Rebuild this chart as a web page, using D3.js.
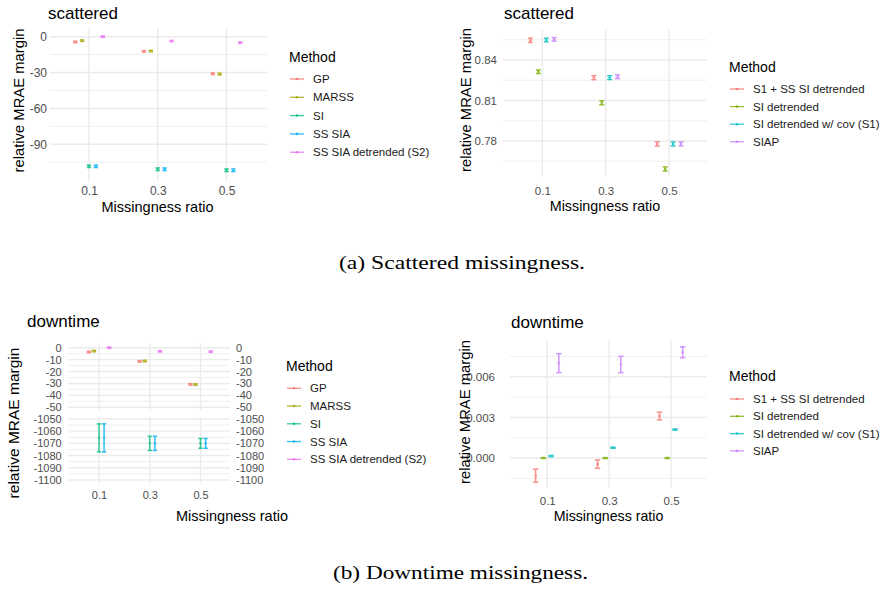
<!DOCTYPE html>
<html>
<head>
<meta charset="utf-8">
<script src="https://cdn.jsdelivr.net/npm/d3@7"></script>
<style>
body { margin: 0; background: #fff; }
text { font-family: "Liberation Sans", Arial, sans-serif; }
</style>
</head>
<body>
<svg width="885" height="591"></svg>
<script>
const ratios = [0.1, 0.3, 0.5];

const methods5 = ["GP", "MARSS", "SI", "SS SIA", "SS SIA detrended (S2)"];
const methods4 = ["S1 + SS SI detrended", "SI detrended", "SI detrended w/ cov (S1)", "SIAP"];
const palette5 = ["#F8766D", "#A3A500", "#00BF7D", "#00B0F6", "#E76BF3"];
const palette4 = ["#F8766D", "#7CAE00", "#00BFC4", "#C77CFF"];

// scattered missingness, 5 methods (rows) x ratios (cols)
const scat5Mean = [
  [-4.4, -12.2, -31.0],
  [-3.3, -12.0, -31.3],
  [-108.4, -110.9, -111.7],
  [-108.4, -110.9, -111.7],
  [0.0, -3.6, -5.0]
];
const scat5Err = [
  [0.6, 0.6, 0.7],
  [0.6, 0.6, 0.7],
  [1.0, 1.1, 1.1],
  [1.0, 1.1, 1.1],
  [0.5, 0.5, 0.5]
];

// scattered missingness, 4 methods
const scat4Mean = [
  [0.8546, 0.8269, 0.7778],
  [0.8313, 0.8083, 0.7593],
  [0.8548, 0.8269, 0.7778],
  [0.8553, 0.8276, 0.7778]
];
const scat4Err = [
  [0.0016, 0.0015, 0.0016],
  [0.0013, 0.0015, 0.0015],
  [0.0013, 0.0014, 0.0015],
  [0.0013, 0.0014, 0.0015]
];

// downtime missingness, 5 methods
const down5Mean = [
  [-3.6, -11.5, -30.8],
  [-2.8, -11.2, -31.0],
  [-1065.5, -1070.0, -1070.0],
  [-1065.5, -1070.0, -1070.0],
  [0.0, -3.0, -3.4]
];
const down5Err = [
  [0.6, 0.6, 0.6],
  [0.6, 0.6, 0.6],
  [11.5, 5.8, 4.0],
  [11.5, 5.8, 4.0],
  [0.5, 0.5, 0.5]
];

// downtime missingness, 4 methods
const down4Mean = [
  [-0.0013, -0.00045, 0.0031],
  [0.0, 0.0, 0.0],
  [0.00015, 0.00076, 0.0021],
  [0.0070, 0.0069, 0.0078]
];
const down4Err = [
  [0.00048, 0.00031, 0.00028],
  [0.00003, 0.00003, 0.00003],
  [0.00004, 0.00004, 0.00004],
  [0.0007, 0.0006, 0.0004]
];

const svg = d3.select("svg");
const gridCol = "#ebebeb";
const tickCol = "#4d4d4d";

function drawPanel(o) {
  const g = svg.append("g");
  const x = d3.scaleLinear().domain(o.xDomain).range([o.left, o.right]);
  const n = o.methods.length;
  const step = 0.1 / n;

  o.bands.forEach(b => {
    const y = d3.scaleLinear().domain(b.domain).range([b.bottom, b.top]);

    g.selectAll(null).data(b.minor).enter().append("line")
      .attr("x1", o.left).attr("x2", o.right)
      .attr("y1", d => y(d)).attr("y2", d => y(d))
      .attr("stroke", gridCol).attr("stroke-width", 0.8);
    g.selectAll(null).data(b.ticks).enter().append("line")
      .attr("x1", o.left).attr("x2", o.right)
      .attr("y1", d => y(d)).attr("y2", d => y(d))
      .attr("stroke", gridCol).attr("stroke-width", 1.4);
    g.selectAll(null).data(ratios).enter().append("line")
      .attr("x1", d => x(d)).attr("x2", d => x(d))
      .attr("y1", b.top).attr("y2", b.bottom)
      .attr("stroke", gridCol).attr("stroke-width", 1.4);

    const ax = g.append("g")
      .attr("transform", `translate(${o.labelRight},0)`)
      .call(d3.axisLeft(y).tickValues(b.ticks).tickSize(0).tickPadding(0).tickFormat(o.fmt));
    ax.select(".domain").remove();
    ax.selectAll("text").attr("fill", tickCol).style("font-size", o.tickFs + "px")
      .style("font-family", '"Liberation Sans", Arial, sans-serif');

    if (o.labelLeft2 != null) {
      const ax2 = g.append("g")
        .attr("transform", `translate(${o.labelLeft2},0)`)
        .call(d3.axisRight(y).tickValues(b.ticks).tickSize(0).tickPadding(0).tickFormat(o.fmt));
      ax2.select(".domain").remove();
      ax2.selectAll("text").attr("fill", tickCol).style("font-size", o.tickFs + "px")
        .style("font-family", '"Liberation Sans", Arial, sans-serif');
    }

    const pts = [];
    o.mean.forEach((row, i) => row.forEach((m, j) => {
      if (m >= b.domain[0] && m <= b.domain[1]) {
        pts.push({ xv: ratios[j] + (i - (n - 1) / 2) * step, m, e: o.err[i][j], c: o.colors[i] });
      }
    }));
    const eb = g.selectAll(null).data(pts).enter().append("g")
      .attr("stroke", d => d.c).attr("fill", d => d.c).attr("opacity", 0.8);
    eb.append("line")
      .attr("x1", d => x(d.xv)).attr("x2", d => x(d.xv))
      .attr("y1", d => y(d.m - d.e)).attr("y2", d => y(d.m + d.e))
      .attr("stroke-width", 1.5);
    eb.append("line")
      .attr("x1", d => x(d.xv) - o.cap).attr("x2", d => x(d.xv) + o.cap)
      .attr("y1", d => y(d.m - d.e)).attr("y2", d => y(d.m - d.e))
      .attr("stroke-width", 1.5);
    eb.append("line")
      .attr("x1", d => x(d.xv) - o.cap).attr("x2", d => x(d.xv) + o.cap)
      .attr("y1", d => y(d.m + d.e)).attr("y2", d => y(d.m + d.e))
      .attr("stroke-width", 1.5);
    eb.append("circle")
      .attr("cx", d => x(d.xv)).attr("cy", d => y(d.m))
      .attr("r", 1.3).attr("stroke", "none");
  });

  const xa = g.append("g")
    .attr("transform", `translate(0,${o.xLabelY})`)
    .call(d3.axisBottom(x).tickValues(ratios).tickSize(0).tickFormat(d => d.toFixed(1)));
  xa.select(".domain").remove();
  xa.selectAll("text").attr("y", 0).attr("dy", 0).attr("fill", tickCol)
    .style("font-size", o.tickFs + "px")
    .style("font-family", '"Liberation Sans", Arial, sans-serif');

  g.append("text").attr("x", o.xTitle[0]).attr("y", o.xTitle[1])
    .attr("text-anchor", "middle").style("font-size", o.axisFs + "px")
    .text("Missingness ratio");
  g.append("text")
    .attr("transform", `translate(${o.yTitle[0]},${o.yTitle[1]}) rotate(-90)`)
    .attr("text-anchor", "middle").style("font-size", o.yFs + "px")
    .text("relative MRAE margin");
  g.append("text").attr("x", o.title[0]).attr("y", o.title[1])
    .style("font-size", "17px").text(o.name);

  // legend
  const lg = g.append("g");
  lg.append("text").attr("x", o.legend.x).attr("y", o.legend.titleY)
    .style("font-size", "14px").text("Method");
  const item = lg.selectAll(null).data(o.methods).enter().append("g")
    .attr("transform", (d, i) => `translate(${o.legend.x},${o.legend.y0 + i * o.legend.step})`);
  item.append("line").attr("x1", 1).attr("x2", 15).attr("y1", 0).attr("y2", 0)
    .attr("stroke", (d, i) => o.colors[i]).attr("stroke-width", 1.3).attr("opacity", 0.8);
  item.append("circle").attr("cx", 8).attr("cy", 0).attr("r", 1.3)
    .attr("fill", (d, i) => o.colors[i]).attr("opacity", 0.8);
  item.append("text").attr("x", 24).attr("y", 4)
    .style("font-size", "11.5px").attr("fill", "#1a1a1a").text(d => d);
}

drawPanel({
  name: "scattered", methods: methods5, colors: palette5, mean: scat5Mean, err: scat5Err,
  left: 50, right: 267, xDomain: [-0.0134, 0.6178], cap: 2.2,
  bands: [{ top: 28, bottom: 181, domain: [-120.7, 7.28], ticks: [0, -30, -60, -90], minor: [-15, -45, -75, -105] }],
  fmt: d => String(d), labelRight: 47, tickFs: 12, xLabelY: 194.5,
  xTitle: [157.5, 211.5], yTitle: [24, 100.5], axisFs: 14.5, yFs: 14.8, title: [48, 19],
  legend: { x: 289, titleY: 62, y0: 79, step: 18.3 }
});

drawPanel({
  name: "scattered", methods: methods4, colors: palette4, mean: scat4Mean, err: scat4Err,
  left: 503.3, right: 706.7, xDomain: [-0.023, 0.6186], cap: 2.5,
  bands: [{ top: 30, bottom: 177, domain: [0.7533, 0.8622], ticks: [0.78, 0.81, 0.84], minor: [0.765, 0.795, 0.825, 0.855] }],
  fmt: d => d.toFixed(2), labelRight: 497, tickFs: 11.5, xLabelY: 194.5,
  xTitle: [605, 210.5], yTitle: [471, 100], axisFs: 14.3, yFs: 14.8, title: [504, 19],
  legend: { x: 729, titleY: 72, y0: 89, step: 17.6 }
});

drawPanel({
  name: "downtime", methods: methods5, colors: palette5, mean: down5Mean, err: down5Err,
  left: 68.3, right: 230, xDomain: [-0.021, 0.616], cap: 2.2,
  bands: [
    { top: 343, bottom: 410, domain: [-52.3, 3.94], ticks: [0, -10, -20, -30, -40, -50], minor: [-5, -15, -25, -35, -45] },
    { top: 417, bottom: 483, domain: [-1102.5, -1048.4], ticks: [-1050, -1060, -1070, -1080, -1090, -1100], minor: [-1055, -1065, -1075, -1085, -1095] }
  ],
  fmt: d => String(d), labelRight: 61.7, labelLeft2: 236, tickFs: 11, xLabelY: 498.5,
  xTitle: [232, 521], yTitle: [19, 423], axisFs: 14.5, yFs: 15.5, title: [27, 327],
  legend: { x: 286, titleY: 370.5, y0: 388.3, step: 17.75 }
});

drawPanel({
  name: "downtime", methods: methods4, colors: palette4, mean: down4Mean, err: down4Err,
  left: 510, right: 706.7, xDomain: [-0.0203, 0.615], cap: 2.7,
  bands: [{ top: 340, bottom: 488, domain: [-0.00221, 0.00871], ticks: [0, 0.003, 0.006], minor: [-0.0015, 0.0015, 0.0045, 0.0075] }],
  fmt: d => d.toFixed(3), labelRight: 495, tickFs: 11.5, xLabelY: 505,
  xTitle: [608.5, 521], yTitle: [470, 412], axisFs: 14.2, yFs: 14.8, title: [511, 328],
  legend: { x: 729, titleY: 380.5, y0: 399, step: 17.3 }
});

// sub-figure captions
svg.append("text").attr("x", 462).attr("y", 269).attr("text-anchor", "middle")
  .style("font-family", '"Liberation Serif", "Times New Roman", serif').style("font-size", "19.5px")
  .attr("textLength", 246).attr("lengthAdjust", "spacingAndGlyphs")
  .text("(a) Scattered missingness.");
svg.append("text").attr("x", 460.5).attr("y", 579).attr("text-anchor", "middle")
  .style("font-family", '"Liberation Serif", "Times New Roman", serif').style("font-size", "19.5px")
  .attr("textLength", 255).attr("lengthAdjust", "spacingAndGlyphs")
  .text("(b) Downtime missingness.");
</script>
</body>
</html>
